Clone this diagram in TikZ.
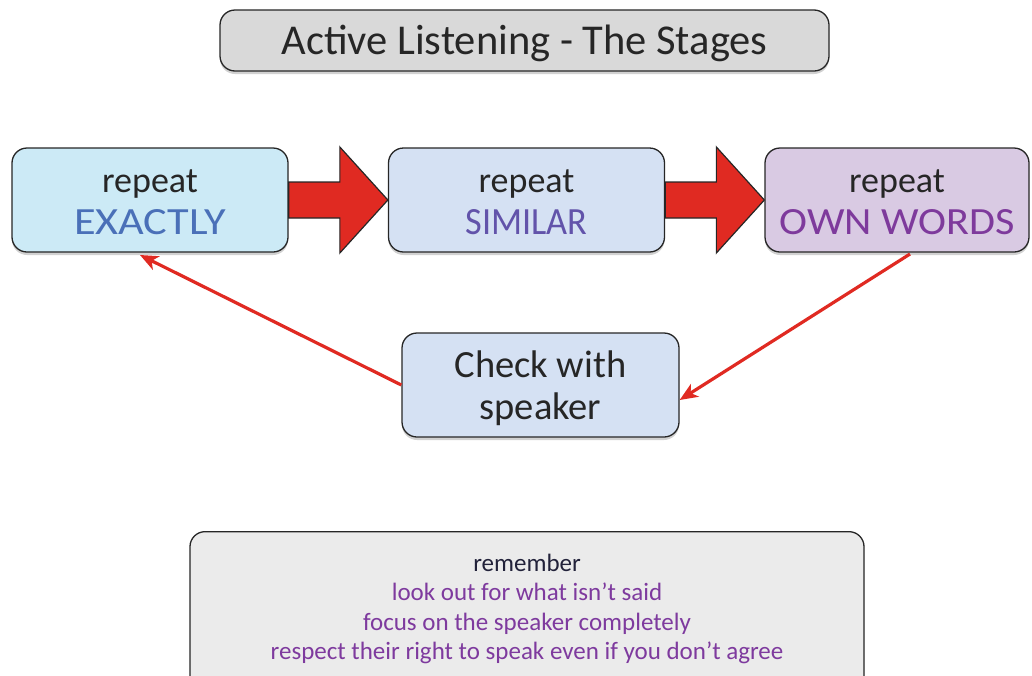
\documentclass[tikz,border=0pt]{standalone}
\usepackage{fontspec}
\usepackage{graphicx}
\setmainfont{Carlito}
\usetikzlibrary{calc,arrows.meta,shadows}
\definecolor{redA}{HTML}{E02A22}
\definecolor{cyanF}{HTML}{CCEAF6}
\definecolor{blueF}{HTML}{D5E1F3}
\definecolor{lilacF}{HTML}{D9CAE3}
\definecolor{titleF}{HTML}{D9D9D9}
\definecolor{noteF}{HTML}{EBEBEB}
\definecolor{exactC}{HTML}{4A70B8}
\definecolor{similarC}{HTML}{6253AA}
\definecolor{ownC}{HTML}{7E3A9C}
\definecolor{noteC}{HTML}{7E3A9E}
\definecolor{remC}{HTML}{22223A}
\definecolor{textC}{HTML}{262626}
\newcommand{\capword}[3]{\textcolor{#1}{\resizebox{#2}{25pt}{#3}}}
\tikzset{
  box/.style={draw=black!85, line width=1.3pt, rounded corners=15pt, inner sep=0pt,
    align=center, text=textC,
    drop shadow={shadow xshift=0pt, shadow yshift=-3pt, opacity=0.18, fill=black}},
  stagebox/.style={box, minimum width=276pt, minimum height=104pt,
    font=\fontsize{36}{42}\selectfont},
  blockarrow/.style={draw=black!85, line width=1.2pt, fill=redA, line join=miter},
  backarrow/.style={draw=redA, line width=3.2pt, -{Stealth[length=18pt,width=15pt,inset=5pt]}},
}
\begin{document}
\begin{tikzpicture}[x=1pt,y=-1pt]
\useasboundingbox (0,0) rectangle (1032,675);
\node[box, fill=titleF, minimum width=609pt, minimum height=61pt,
  font=\fontsize{42.5}{48}\selectfont] (title) at (524.5,40.5) {\raisebox{-14pt}[0pt][0pt]{Active Listening - The Stages}};
\node[stagebox, fill=cyanF] (b1) at (150,200) {\rule{0pt}{27pt}repeat\\\capword{exactC}{152pt}{EXACTLY}};
\node[stagebox, fill=blueF] (b2) at (526.5,200) {\rule{0pt}{27pt}repeat\\\capword{similarC}{122pt}{SIMILAR}};
\node[stagebox, fill=lilacF, minimum width=264pt] (b3) at (897,200) {\rule{0pt}{27pt}repeat\\\capword{ownC}{235pt}{OWN WORDS}};
\node[stagebox, fill=blueF, minimum width=277pt, font=\fontsize{38.5}{42}\selectfont] (chk) at (540.5,385) {\rule{0pt}{34pt}Check with\\speaker};
\node[box, fill=noteF, minimum width=674pt, minimum height=160pt, anchor=north] (note) at (527,531) {};
\node[font=\fontsize{25}{29.5}\selectfont, text=noteC, align=center, anchor=north] (notetext) at (527,550.5)
  {\textcolor{remC}{remember}\\look out for what isn’t said\\focus on the speaker completely\\respect their right to speak even if you don’t agree};
% block arrows
\foreach \a/\b in {b1/b2, b2/b3}{
  \draw[blockarrow] let \p1=(\a.east), \p2=(\b.west) in
    (\x1,\y1+18pt) -- (\x2-48pt,\y1+18pt) -- (\x2-48pt,\y1+53pt) -- (\x2,\y1)
    -- (\x2-48pt,\y1-53pt) -- (\x2-48pt,\y1-18pt) -- (\x1,\y1-18pt) -- cycle;
}
\coordinate (t1) at (140,255);
\coordinate (s2) at (910,254);
\draw[backarrow] (chk.west) -- (t1);
\draw[backarrow] (s2) -- ([yshift=-15pt]chk.east);
\end{tikzpicture}
\end{document}
